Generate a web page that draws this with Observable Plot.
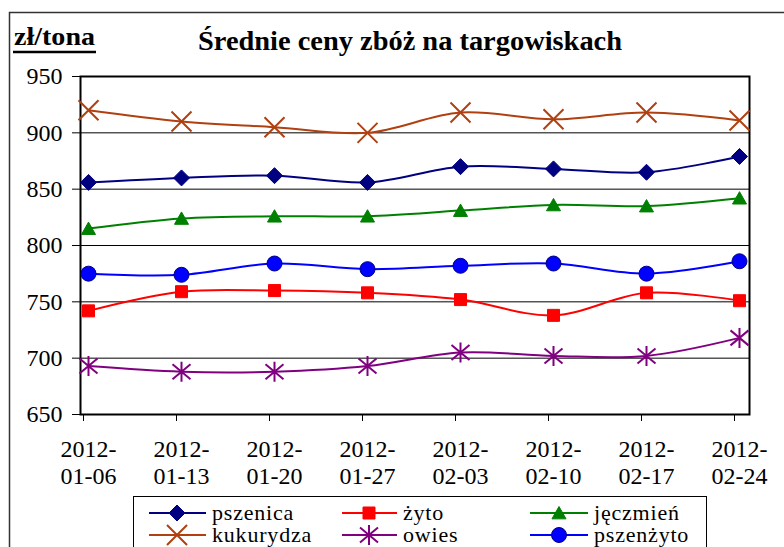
<!DOCTYPE html>
<html><head><meta charset="utf-8">
<script src="https://cdn.jsdelivr.net/npm/d3@7"></script>
<script src="https://cdn.jsdelivr.net/npm/@observablehq/plot@0.6"></script>
<style>body{margin:0;background:#fff} #chart{width:784px;height:547px;overflow:hidden}
#chart svg text{font-family:"Liberation Serif","Times New Roman",Times,"DejaVu Serif",serif !important}</style>
</head><body><div id="chart"></div>
<script>
const dates = ["2012-01-06","2012-01-13","2012-01-20","2012-01-27","2012-02-03","2012-02-10","2012-02-17","2012-02-24"];
const pszenica  = [856, 860, 862, 856, 870, 868, 865, 879];
const zyto      = [742, 759, 760, 758, 752, 738, 758, 751];
const jeczmien  = [815, 824, 826, 826, 831, 836, 835, 842];
const kukurydza = [920, 910, 905, 900, 918, 912, 918, 911];
const owies     = [693, 688, 688, 693, 705, 702, 702, 718];
const pszenzyto = [775, 774, 784, 779, 782, 784, 775, 786];
const seriesNames  = ["pszenica","żyto","jęczmień","kukurydza","owies","pszenżyto"];
const seriesValues = [pszenica, zyto, jeczmien, kukurydza, owies, pszenzyto];
const yTicks = [650,700,750,800,850,900,950];
const titleText = "Średnie ceny zbóż na targowiskach";
const unitText = "zł/tona";

const FONT = "Liberation Serif, Times New Roman, serif";
const rad = s => Math.sqrt(s / Math.PI);
const symDiamond = {draw(c,s){const r=rad(s);c.moveTo(0,-r);c.lineTo(r,0);c.lineTo(0,r);c.lineTo(-r,0);c.closePath();}};
const symSquare  = {draw(c,s){const r=rad(s);c.rect(-r,-r,2*r,2*r);}};
const symTri     = {draw(c,s){const r=rad(s);c.moveTo(0,-r);c.lineTo(r*1.08,r*0.9);c.lineTo(-r*1.08,r*0.9);c.closePath();}};
const symX       = {draw(c,s){const r=rad(s);c.moveTo(-r,-r);c.lineTo(r,r);c.moveTo(-r,r);c.lineTo(r,-r);}};
const symStar    = {draw(c,s){const r=rad(s);c.moveTo(0,-r);c.lineTo(0,r);c.moveTo(-r*0.9,-r*0.75);c.lineTo(r*0.9,r*0.75);c.moveTo(-r*0.9,r*0.75);c.lineTo(r*0.9,-r*0.75);}};
const symCircle  = {draw(c,s){const r=rad(s);c.moveTo(r,0);c.arc(0,0,r,0,2*Math.PI);}};

const styles = [
  {color:"#000080", sym:symDiamond, r:8,   fill:"#000080", stroke:"#000080", sw:1},
  {color:"#FF0000", sym:symSquare,  r:6,   fill:"#FF0000", stroke:"#FF0000", sw:1},
  {color:"#008000", sym:symTri,     r:6.5, fill:"#008000", stroke:"#008000", sw:1},
  {color:"#B04010", sym:symX,       r:10,  fill:"none",    stroke:"#B04010", sw:2},
  {color:"#800080", sym:symStar,    r:10,  fill:"none",    stroke:"#800080", sw:2},
  {color:"#0000FF", sym:symCircle,  r:7.5, fill:"#0000FF", stroke:"#000080", sw:1}
];

const marks = [
  Plot.gridY(yTicks, {stroke:"black", strokeOpacity:1, strokeWidth:1}),
  Plot.frame({stroke:"black", strokeWidth:2}),
  Plot.axisY(yTicks, {tickSize:8, tickPadding:10, fontSize:24, fontFamily:FONT, stroke:"black", fill:"black"}),
  Plot.axisX({tickSize:7, tickFormat:()=>"", dx:-5, stroke:"black"}),
  Plot.axisX({tickSize:0, tickPadding:23, fontSize:24, fontFamily:FONT, lineHeight:1.125, fill:"black",
              tickFormat:d => d.slice(0,5) + "\n" + d.slice(5)})
];
seriesValues.forEach((vals, k) => {
  const st = styles[k];
  marks.push(Plot.line(dates, {x:d=>d, y:(d,i)=>vals[i], curve:"catmull-rom", stroke:st.color, strokeWidth:2}));
});
seriesValues.forEach((vals, k) => {
  const st = styles[k];
  marks.push(Plot.dot(dates, {x:d=>d, y:(d,i)=>vals[i], symbol:st.sym, r:st.r, fill:st.fill, stroke:st.stroke, strokeWidth:st.sw}));
});

const svg = Plot.plot({
  width:784, height:547,
  marginLeft:80, marginRight:35, marginTop:76, marginBottom:133,
  style:{fontFamily:FONT, fontSize:"24px", color:"black", background:"white", overflow:"hidden"},
  x:{type:"point", domain:dates, padding:0.064, align:0.42, label:null},
  y:{domain:[650,950], label:null},
  marks
});
const g = d3.select(svg);
g.append("rect").attr("x",9.5).attr("y",12.5).attr("width",900).attr("height",700)
  .attr("fill","none").attr("stroke","#333").attr("stroke-width",1.5);
g.append("text").attr("x",198).attr("y",50).attr("text-anchor","start").attr("textLength",424).attr("lengthAdjust","spacingAndGlyphs")
  .attr("font-weight","bold").attr("font-size",27).attr("fill","black").text(titleText);
g.append("text").attr("x",14).attr("y",45).attr("text-anchor","start").attr("textLength",81).attr("lengthAdjust","spacingAndGlyphs")
  .attr("font-weight","bold").attr("font-size",26).attr("fill","black").text(unitText);
g.append("line").attr("x1",13).attr("x2",96).attr("y1",52).attr("y2",52).attr("stroke","black").attr("stroke-width",2.5);

// legend
const lg = g.append("g");
lg.append("rect").attr("x",133.5).attr("y",496.5).attr("width",573).attr("height",80)
  .attr("fill","white").attr("stroke","black").attr("stroke-width",1);
const colL0 = [149,342,530], colL1 = [206,397,588], colM = [177,369,559], colT = [212,403,594], rowY = [513,535];
seriesNames.forEach((name, i) => {
  const c = i % 3, r = Math.floor(i / 3), st = styles[i], y = rowY[r];
  lg.append("line").attr("x1",colL0[c]).attr("x2",colL1[c]).attr("y1",y).attr("y2",y)
    .attr("stroke",st.color).attr("stroke-width",2);
  lg.append("path").attr("d", d3.symbol(st.sym, Math.PI*st.r*st.r)())
    .attr("transform",`translate(${colM[c]},${y})`)
    .attr("fill",st.fill).attr("stroke",st.stroke).attr("stroke-width",st.sw);
  lg.append("text").attr("x",colT[c]).attr("y",y).attr("dy","0.32em").attr("text-anchor","start")
    .attr("font-size",22).attr("letter-spacing",0.8).attr("fill","black").text(name);
});
document.getElementById("chart").appendChild(svg);
</script></body></html>
